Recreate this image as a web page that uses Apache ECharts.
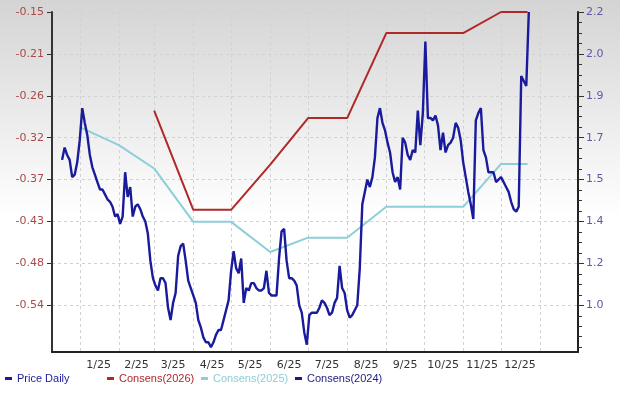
<!DOCTYPE html>
<html><head><meta charset="utf-8">
<script src="https://cdn.jsdelivr.net/npm/echarts@6/dist/echarts.min.js"></script>
<style>html,body{margin:0;padding:0;background:#fff}#c{width:620px;height:395px}</style>
</head><body><div id="c"></div>
<script>
// ---- data ----
const priceStart = '2024-12-18';
const priceStepDays = 2;
const priceValues = [
1.60,1.65,1.62,1.60,1.53,1.54,1.59,1.68,1.81,1.75,
1.70,1.62,1.57,1.54,1.51,1.48,1.48,1.46,1.44,1.43,
1.41,1.37,1.38,1.34,1.37,1.55,1.45,1.49,1.37,1.41,
1.42,1.40,1.37,1.35,1.30,1.19,1.12,1.09,1.07,1.12,
1.12,1.10,1.00,0.95,1.02,1.06,1.21,1.25,1.26,1.19,
1.11,1.08,1.05,1.02,0.95,0.92,0.88,0.86,0.86,0.84,
0.86,0.89,0.91,0.91,0.95,0.99,1.03,1.15,1.23,1.16,
1.14,1.20,1.02,1.08,1.07,1.10,1.10,1.08,1.07,1.07,
1.08,1.15,1.06,1.05,1.05,1.05,1.20,1.31,1.32,1.19,
1.12,1.12,1.11,1.09,1.01,0.98,0.90,0.85,0.97,0.98,
0.98,0.98,1.00,1.03,1.02,1.00,0.97,0.98,1.02,1.04,
1.17,1.08,1.06,0.99,0.96,0.97,0.99,1.01,1.16,1.42,
1.47,1.52,1.49,1.53,1.61,1.77,1.81,1.75,1.72,1.67,
1.63,1.55,1.51,1.53,1.48,1.69,1.67,1.62,1.60,1.64,
1.63,1.80,1.66,1.79,2.08,1.77,1.77,1.76,1.78,1.74,
1.64,1.71,1.63,1.66,1.67,1.69,1.75,1.73,1.68,1.59,
1.53,1.47,1.42,1.36,1.76,1.79,1.81,1.64,1.61,1.55,
1.55,1.55,1.51,1.52,1.53,1.51,1.49,1.47,1.43,1.40,
1.39,1.41,1.94,1.92,1.90,2.20];

const cons2026Dates = ['2025-03-01','2025-04-01','2025-05-01','2025-06-01','2025-07-01','2025-08-01','2025-09-01','2025-10-01','2025-11-01','2025-12-01','2025-12-22'];
const cons2026Values = [-0.281,-0.413,-0.413,-0.353,-0.291,-0.291,-0.178,-0.178,-0.178,-0.150,-0.150];

const cons2025Dates = ['2025-01-01','2025-02-01','2025-03-01','2025-04-01','2025-05-01','2025-06-01','2025-07-01','2025-08-01','2025-09-01','2025-10-01','2025-11-01','2025-12-01','2025-12-22'];
const cons2025Values = [-0.303,-0.327,-0.358,-0.429,-0.429,-0.469,-0.450,-0.450,-0.409,-0.409,-0.409,-0.352,-0.352];

const cons2024Dates = [];
const cons2024Values = [];

const monthStartDates = ['2025-01-01','2025-02-01','2025-03-01','2025-04-01','2025-05-01','2025-06-01','2025-07-01','2025-08-01','2025-09-01','2025-10-01','2025-11-01','2025-12-01','2026-01-01'];
const xLabelDates = ['2025-01-16','2025-02-15','2025-03-16','2025-04-16','2025-05-16','2025-06-16','2025-07-16','2025-08-16','2025-09-16','2025-10-16','2025-11-16','2025-12-16'];
const xLabels = ['1/25','2/25','3/25','4/25','5/25','6/25','7/25','8/25','9/25','10/25','11/25','12/25'];
const xStartDate = '2024-12-10';
const xEndDate = '2026-01-31';

const leftTickValues = [-0.15,-0.2057,-0.2614,-0.3171,-0.3728,-0.4285,-0.4842,-0.5399];
const leftTickLabels = ['-0.15','-0.21','-0.26','-0.32','-0.37','-0.43','-0.48','-0.54'];
const leftMin = -0.602, leftMax = -0.15;

const rightTickValues = [2.2,2.03,1.86,1.69,1.52,1.35,1.18,1.01];
const rightTickLabels = ['2.2','2.0','1.9','1.7','1.5','1.4','1.2','1.0'];
const rightMin = 0.8205, rightMax = 2.2;

// ---- helpers ----
function dayOf(s){const p=s.split('-').map(Number);return (Date.UTC(p[0],p[1]-1,p[2])-Date.UTC(2025,0,1))/86400000;}
function lookup(vals,labels,v){let bi=0,bd=Infinity;vals.forEach((x,i)=>{const d=Math.abs(x-v);if(d<bd){bd=d;bi=i;}});return labels[bi];}
const p0 = dayOf(priceStart);
const priceData = priceValues.map((v,i)=>[p0+i*priceStepDays,v]);
const c26 = cons2026Dates.map((d,i)=>[dayOf(d),cons2026Values[i]]);
const c25 = cons2025Dates.map((d,i)=>[dayOf(d),cons2025Values[i]]);
const c24 = cons2024Dates.map((d,i)=>[dayOf(d),cons2024Values[i]]);
const monthDays = monthStartDates.map(dayOf);
const labelDays = xLabelDates.map(dayOf);
const rStep = (rightTickValues[0]-rightTickValues[1])/4;
const rightMinor = [];
for(let v=rightMax; v>=rightMin-1e-9; v-=rStep) rightMinor.push(+v.toFixed(5));

const C_PRICE='#1a1a9c', C_26='#b02828', C_25='#8ccfd8', C_24='#1c1c80';
const gridLine = {show:true,lineStyle:{color:'#d2d2d2',width:1,type:[3,3]}};
const legendCommon = {top:373,padding:0,icon:'rect',itemWidth:7,itemHeight:3,itemGap:0,selectedMode:false,
  textStyle:{fontSize:11,fontFamily:'Liberation Sans, Arial, sans-serif'}};

const chart = echarts.init(document.getElementById('c'),null,{renderer:'canvas'});
chart.setOption({
  animation:false,
  backgroundColor:{type:'linear',x:0,y:0,x2:0,y2:1,colorStops:[{offset:0,color:'#d4d4d4'},{offset:0.55,color:'#ffffff'},{offset:1,color:'#ffffff'}]},
  grid:{left:52,right:42,top:12,bottom:43,containLabel:false},
  legend:[
    Object.assign({left:5,data:[{name:'Price Daily',textStyle:{color:C_PRICE}}]},legendCommon),
    Object.assign({left:107,data:[{name:'Consens(2026)',textStyle:{color:C_26}}]},legendCommon),
    Object.assign({left:201,data:[{name:'Consens(2025)',textStyle:{color:C_25}}]},legendCommon),
    Object.assign({left:295,data:[{name:'Consens(2024)',textStyle:{color:C_24}}]},legendCommon)
  ],
  xAxis:{type:'value',min:dayOf(xStartDate),max:dayOf(xEndDate),
    axisLine:{show:true,onZero:false,lineStyle:{color:'#222',width:2}},
    axisTick:{show:false,customValues:monthDays},
    splitLine:gridLine,
    axisLabel:{customValues:labelDays,formatter:v=>lookup(labelDays,xLabels,v),color:'#333',fontSize:11,fontFamily:'DejaVu Sans',margin:8}
  },
  yAxis:[
    {type:'value',position:'left',min:leftMin,max:leftMax,
      axisLine:{show:true,onZero:false,lineStyle:{color:'#333',width:2}},
      axisTick:{show:true,customValues:leftTickValues,length:5,lineStyle:{color:'#333'}},
      axisLabel:{customValues:leftTickValues,formatter:v=>lookup(leftTickValues,leftTickLabels,v),color:'#a84a4a',fontSize:11,fontFamily:'DejaVu Sans',margin:8},
      splitLine:gridLine},
    {type:'value',position:'right',min:rightMin,max:rightMax,
      axisLine:{show:true,onZero:false,lineStyle:{color:'#222',width:2}},
      axisTick:{show:true,customValues:rightMinor,length:4,lineStyle:{color:'#333'}},
      axisLabel:{customValues:rightTickValues,formatter:v=>lookup(rightTickValues,rightTickLabels,v),color:'#5a5aaa',fontSize:11,fontFamily:'DejaVu Sans',margin:8},
      splitLine:{show:false}},
    {type:'value',position:'right',min:rightMin,max:rightMax,
      axisLine:{show:false,onZero:false},
      axisTick:{show:true,customValues:rightTickValues,length:6,lineStyle:{color:'#333'}},
      axisLabel:{show:false},splitLine:{show:false}}
  ],
  series:[
    {name:'Price Daily',type:'line',yAxisIndex:1,data:priceData,showSymbol:false,color:C_PRICE,lineStyle:{width:2.4,color:C_PRICE},z:5},
    {name:'Consens(2026)',type:'line',yAxisIndex:0,data:c26,showSymbol:false,color:C_26,lineStyle:{width:2,color:C_26},z:3},
    {name:'Consens(2025)',type:'line',yAxisIndex:0,data:c25,showSymbol:false,color:C_25,lineStyle:{width:2,color:C_25},z:3},
    {name:'Consens(2024)',type:'line',yAxisIndex:0,data:c24,showSymbol:false,color:C_24,lineStyle:{width:2,color:C_24},z:3}
  ]
});
</script></body></html>
